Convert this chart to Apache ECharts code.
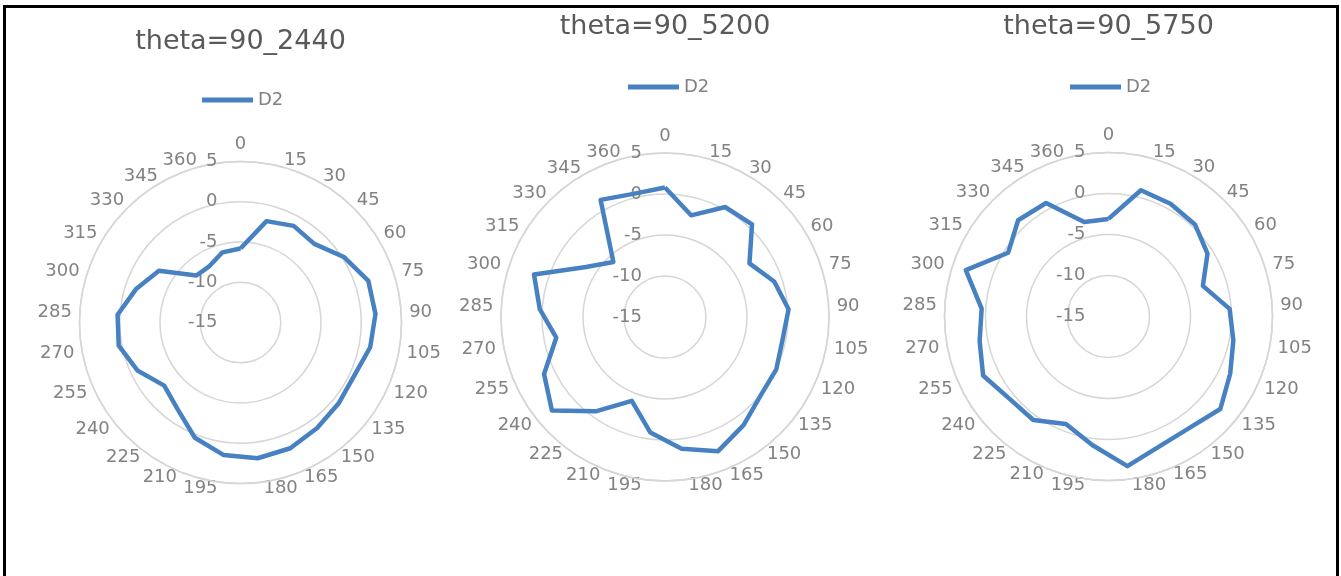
<!DOCTYPE html>
<html>
<head>
<meta charset="utf-8">
<title>theta=90 D2</title>
<script src="https://cdn.jsdelivr.net/npm/echarts@6/dist/echarts.min.js"></script>
<style>
  html, body { margin: 0; padding: 0; background: #fff; overflow: hidden; }
  #chart { width: 1341px; height: 576px; }
  .frame {
    position: absolute; left: 3px; top: 5px; width: 1330px; height: 620px;
    border: 3px solid #000; border-bottom: none; pointer-events: none;
  }
</style>
</head>
<body>
<div id="chart"></div>
<div class="frame"></div>
<script>
// angle categories (degrees) shared by the three radar plots
const categories = ['0', '15', '30', '45', '60', '75', '90', '105', '120', '135', '150', '165',
  '180', '195', '210', '225', '240', '255', '270', '285', '300', '315', '330', '345', '360']

const radiusTicks = { min: -15, max: 5, interval: 5 }

const titles = ['theta=90_2440', 'theta=90_5200', 'theta=90_5750']
const seriesName = 'D2'

// D2 values
const d2_2440 = [-5.8, -2.0, -1.3, -1.6, 0.2, 1.7, 1.8, 1.4, 0.6, 0.8, 1.2, 1.8,
  2.0, 1.6, 0.4, -1.7, -2.7, -0.9, 0.4, 0.3, -1.4, -3.0, -7.0, -7.0, -6.0]
const d2_5200 = [0.8, -2.2, 0.3, 0.5, -2.8, -1.0, 0.1, -0.4, 0.0, 0.1, 1.3, 2.6,
  1.2, -0.8, -4.0, -0.8, 2.9, 1.3, -1.5, 0.3, 1.8, -3.6, -5.8, 1.3, 0.5]
const d2_5750 = [-3.1, 0.9, 0.7, 0.4, -0.7, -2.9, -0.2, 0.5, 1.4, 2.7, 1.8, 2.0,
  3.4, 0.8, -0.9, 0.6, 0.7, 1.9, 1.0, 0.5, 3.3, -0.5, 1.1, 0.8, -3.1]

const seriesData = [d2_2440, d2_5200, d2_5750]

// layout of each plot (center, radius, title / legend placement)
const panels = [
  { cx: 240.5, cy: 322.5, r: 161, titleTop: 28, legendLeft: 202, legendTop: 91 },
  { cx: 665, cy: 317, r: 164, titleTop: 13, legendLeft: 628, legendTop: 78 },
  { cx: 1108.5, cy: 316.5, r: 164, titleTop: 13, legendLeft: 1070, legendTop: 78 },
]

const FONT = '"DejaVu Sans", sans-serif'
const labelSize = 18
const labelColor = '#828282'
const titleColor = '#595959'
const ringColor = '#d6d6d6'
const lineColor = '#4781c1'

const measureCtx = document.createElement('canvas').getContext('2d')
measureCtx.font = labelSize + 'px "DejaVu Sans"'

// Excel places category labels hugging the outer ring; echarts only has 3 align zones,
// so anchor every label near the center (center/middle zone) and push it out with padding.
function angleLabels(r) {
  const n = categories.length
  const inner = 0.25 * r
  const rich = {}
  categories.forEach((text, i) => {
    const a = i * 2 * Math.PI / n
    const s = Math.sin(a)
    const c = Math.cos(a)
    const w = measureCtx.measureText(text).width
    const h = labelSize
    let dx, dy
    if (Math.abs(s) < 0.05) {
      dx = r * s
      dy = -r * c - c * (h / 2 + 8)
    } else {
      const g = 2 + 6 * Math.abs(s)
      dx = r * s + Math.sign(s) * (w / 2 + g)
      dy = -r * c - c * 6
    }
    // shift from the echarts anchor
    const sx = dx - inner * s
    const sy = dy + inner * c
    rich['a' + i] = {
      fontSize: labelSize, fontFamily: FONT, color: labelColor,
      padding: [Math.max(0, 2 * sy), Math.max(0, -2 * sx), Math.max(0, -2 * sy), Math.max(0, 2 * sx)],
    }
  })
  return {
    margin: inner - r,
    color: labelColor, fontSize: labelSize, fontFamily: FONT,
    formatter: (v) => (v < n ? '{a' + v + '|' + categories[v] + '}' : ''),
    rich,
  }
}

const option = {
  backgroundColor: '#fff',
  animation: false,
  title: panels.map((p, k) => ({
    text: titles[k],
    left: p.cx,
    top: p.titleTop,
    textAlign: 'center',
    padding: 0,
    textStyle: { color: titleColor, fontSize: 27, fontWeight: 'normal', fontFamily: FONT },
  })),
  legend: panels.map((p) => ({
    data: [seriesName],
    left: p.legendLeft,
    top: p.legendTop,
    padding: 0,
    icon: 'rect',
    itemWidth: 51,
    itemHeight: 5,
    selectedMode: false,
    textStyle: { color: labelColor, fontSize: 18, fontFamily: FONT },
  })),
  polar: panels.map((p) => ({ center: [p.cx, p.cy], radius: p.r })),
  angleAxis: panels.map((p, k) => ({
    polarIndex: k,
    type: 'value',
    min: 0,
    max: categories.length,
    interval: 1,
    startAngle: 90,
    clockwise: true,
    axisLine: { lineStyle: { color: ringColor, width: 1.5 } },
    axisTick: { show: false },
    splitLine: { show: false },
    axisLabel: angleLabels(p.r),
  })),
  radiusAxis: panels.map((p, k) => ({
    polarIndex: k,
    type: 'value',
    min: radiusTicks.min,
    max: radiusTicks.max,
    interval: radiusTicks.interval,
    axisLine: { show: false },
    axisTick: { show: false },
    axisLabel: { margin: 23, color: labelColor, fontSize: labelSize, fontFamily: FONT },
    splitLine: { lineStyle: { color: ringColor, width: 1.5 } },
  })),
  series: seriesData.map((vals, k) => ({
    type: 'line',
    name: seriesName,
    coordinateSystem: 'polar',
    polarIndex: k,
    symbol: 'none',
    lineStyle: { width: 4.5, color: lineColor, join: 'round' },
    itemStyle: { color: lineColor },
    // close the loop back to the first angle
    data: vals.map((v, i) => [v, i]).concat([[vals[0], categories.length]]),
  })),
}

const chart = echarts.init(document.getElementById('chart'), null, { renderer: 'canvas' })
chart.setOption(option)
</script>
</body>
</html>
